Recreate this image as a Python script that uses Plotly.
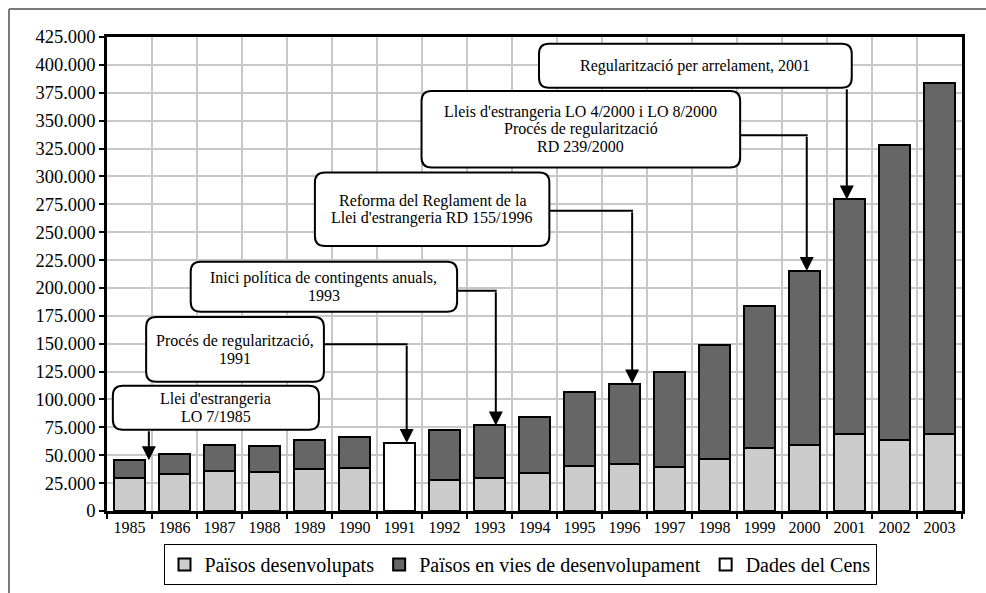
import plotly.graph_objects as go

# ---------------- data ----------------
years = [str(y) for y in range(1985, 2004)]
desenvolupats = [29600, 32900, 35500, 35000, 37700, 38200, None, 28000, 29300, 34100,
                 40000, 42400, 39700, 46900, 56500, 59200, 69000, 63300, 69000]
en_vies = [15800, 18500, 23800, 23300, 25800, 28000, None, 44200, 47400, 49800,
           67100, 71900, 84800, 102000, 127350, 156000, 210400, 264900, 315100]
cens = [None, None, None, None, None, None, 61000, None, None, None,
        None, None, None, None, None, None, None, None, None]

series_names = ["Països desenvolupats", "Països en vies de desenvolupament", "Dades del Cens"]
y_max = 425000
y_step = 25000

# callouts: text lines, target year, box (x0, x1 in category units; y0, y1 in values),
# x of the vertical arrow, y of the horizontal link (None = arrow leaves box bottom)
notes = [
    dict(lines=["Llei d'estrangeria", "LO 7/1985"], year="1985",
         box=(-0.37, 4.21, 72900, 112300), line_x=0.43, link_y=None),
    dict(lines=["Procés de regularització,", "1991"], year="1991",
         box=(0.37, 4.32, 115800, 174000), line_x=6.16, link_y=149600),
    dict(lines=["Inici política de contingents anuals,", "1993"], year="1993",
         box=(1.36, 7.28, 178700, 223500), line_x=8.14, link_y=197500),
    dict(lines=["Reforma del Reglament de la", "Llei d'estrangeria RD 155/1996"], year="1996",
         box=(4.12, 9.33, 237600, 303500), line_x=11.17, link_y=269200),
    dict(lines=["Lleis d'estrangeria LO 4/2000 i LO 8/2000", "Procés de regularització",
                "RD 239/2000"],
         year="2000", box=(6.49, 13.57, 308000, 376600), line_x=15.05, link_y=336900),
    dict(lines=["Regularització per arrelament, 2001"], year="2001",
         box=(9.10, 16.05, 379600, 419000), line_x=15.94, link_y=None),
]

# ---------------- layout constants ----------------
W, H = 986, 593
M = dict(l=107, r=24, t=37, b=82, autoexpand=False)
plot_w = W - M["l"] - M["r"]
plot_h = H - M["t"] - M["b"]
px_per_cat = plot_w / len(years)
val_per_px = y_max / plot_h

FONT = "Liberation Serif, Times New Roman, serif"
LIGHT, DARK, WHITE = "#cccccc", "#666666", "#ffffff"

fig = go.Figure()
for name, vals, col in zip(series_names, [desenvolupats, en_vies, cens], [LIGHT, DARK, WHITE]):
    fig.add_trace(go.Bar(x=years, y=vals, name=name,
                         marker=dict(color=col, line=dict(color="black", width=2))))

totals = []
for a, b, c in zip(desenvolupats, en_vies, cens):
    totals.append((a or 0) + (b or 0) + (c or 0))
total_by_year = dict(zip(years, totals))


def rounded(x0, x1, y0, y1, rx, ry):
    return (f"M {x0+rx},{y0} L {x1-rx},{y0} Q {x1},{y0} {x1},{y0+ry} "
            f"L {x1},{y1-ry} Q {x1},{y1} {x1-rx},{y1} L {x0+rx},{y1} "
            f"Q {x0},{y1} {x0},{y1-ry} L {x0},{y0+ry} Q {x0},{y0} {x0+rx},{y0} Z")


shapes = []
annotations = []
rx = 10 / px_per_cat
ry = 10 * val_per_px
line_gap = 17.5 * val_per_px
for n in notes:
    x0, x1, y0, y1 = n["box"]
    shapes.append(dict(type="path", xref="x", yref="y", path=rounded(x0, x1, y0, y1, rx, ry),
                       fillcolor="white", line=dict(color="black", width=2), layer="above"))
    k = len(n["lines"])
    yc = (y0 + y1) / 2
    for i, ln in enumerate(n["lines"]):
        annotations.append(dict(x=(x0 + x1) / 2, y=yc - (i - (k - 1) / 2) * line_gap,
                                xref="x", yref="y", yanchor="middle",
                                text=ln, showarrow=False,
                                font=dict(family=FONT, size=16, color="black")))
    tip = total_by_year[n["year"]]
    if n["link_y"] is None:
        start_y = y0
    else:
        start_y = n["link_y"]
        shapes.append(dict(type="line", xref="x", yref="y", x0=x1, x1=n["line_x"] + 0.02,
                           y0=start_y, y1=start_y, line=dict(color="black", width=2), layer="above"))
    annotations.append(dict(x=n["line_x"], y=tip, xref="x", yref="y",
                            ax=n["line_x"], ay=start_y, axref="x", ayref="y",
                            text="", showarrow=True, arrowhead=2, arrowsize=1.4,
                            arrowwidth=2, arrowcolor="black", standoff=0, startstandoff=0))


# pixel -> paper coordinates
def px2paper_x(px):
    return (px - M["l"]) / plot_w


def px2paper_y(py):
    return (H - M["b"] - py) / plot_h


# outer frame of the figure (top and left edges only are visible)
frame = dict(color="#7a7a7a", width=2)
shapes.append(dict(type="line", xref="paper", yref="paper",
                   x0=px2paper_x(9), x1=px2paper_x(1000), y0=px2paper_y(9), y1=px2paper_y(9),
                   line=frame, layer="below"))
shapes.append(dict(type="line", xref="paper", yref="paper",
                   x0=px2paper_x(9), x1=px2paper_x(9), y0=px2paper_y(9), y1=px2paper_y(610),
                   line=frame, layer="below"))

fig.update_layout(
    width=W, height=H, margin=M,
    barmode="stack", bargap=0.31,
    plot_bgcolor="white", paper_bgcolor="white",
    separators=",.",
    font=dict(family=FONT, color="black"),
    showlegend=True,
    legend=dict(orientation="h", x=px2paper_x(520), xanchor="center",
                y=px2paper_y(544), yanchor="top",
                bordercolor="black", borderwidth=1, bgcolor="white",
                font=dict(family=FONT, size=20, color="black"), traceorder="normal"),
    shapes=shapes, annotations=annotations,
)
fig.update_xaxes(type="category", tickson="boundaries", ticks="outside", ticklen=5,
                 tickwidth=1.5, tickcolor="black", showgrid=True, gridcolor="#c8c8c8",
                 gridwidth=1.5, showline=True, linecolor="black", linewidth=2.5, mirror=True,
                 range=[-0.5, len(years) - 0.5], tickfont=dict(family=FONT, size=16))
fig.update_yaxes(range=[0, y_max], dtick=y_step, tick0=0, tickformat=",", ticks="outside",
                 ticklen=5, tickwidth=2, tickcolor="black", showgrid=True, gridcolor="#c8c8c8",
                 gridwidth=1.5, showline=True, linecolor="black", linewidth=2.5, mirror=True,
                 zeroline=False, tickfont=dict(family=FONT, size=18.5))

fig.write_html("out.html", config={"displayModeBar": False},
               post_script="document.body.style.margin='0';document.body.style.overflow='hidden';")
